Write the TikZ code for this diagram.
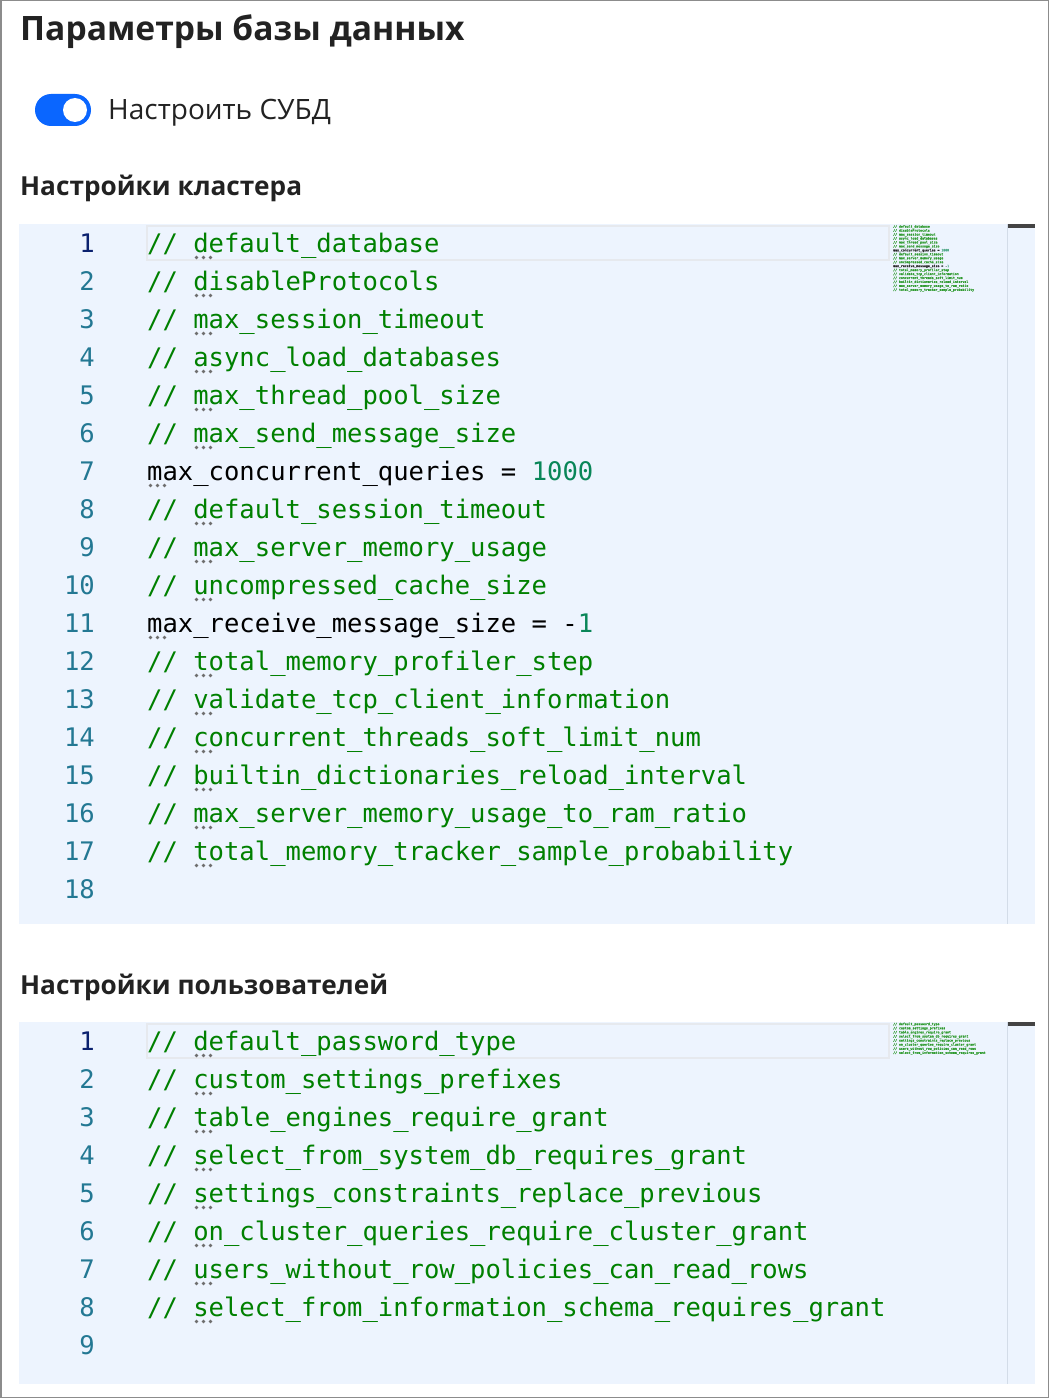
\documentclass[tikz,border=0pt]{standalone}
\usepackage{fontspec}
\newfontfamily\uifont{Open Sans}
\newfontfamily\codefont{DejaVu Sans Mono}
\newfontfamily\mmfont[FakeBold=3]{DejaVu Sans Mono}
\definecolor{edbg}{HTML}{EDF4FE}
\definecolor{cmt}{HTML}{008000}
\definecolor{numteal}{HTML}{098658}
\definecolor{lnteal}{HTML}{237893}
\definecolor{lnactive}{HTML}{0B216F}
\definecolor{hintgray}{HTML}{6E6E6E}
\definecolor{curline}{HTML}{E6E9EE}
\definecolor{toggleblue}{HTML}{0A66FF}
\definecolor{titlecol}{HTML}{222222}
\definecolor{framecol}{HTML}{8C8C8C}
\definecolor{sepcol}{HTML}{D3DCE8}
\definecolor{thumbcol}{HTML}{444444}
\definecolor{mmgreen}{HTML}{2E9A2E}
\newcommand\hintdots[2]{\foreach \k in {0,1,2}{\fill[hintgray] ({#1+3.5+7*\k},{#2}) circle (1.9);}}
\begin{document}
\begin{tikzpicture}[x=1pt,y=-1pt,
  code/.style={inner sep=0pt, anchor=base west, font=\codefont\fontsize{25.55}{30}\selectfont},
  lnum/.style={inner sep=0pt, anchor=base east, font=\codefont\fontsize{25.55}{30}\selectfont, text=lnteal},
  heading/.style={inner sep=0pt, anchor=base west, font=\uifont\bfseries\fontsize{26.2}{32}\selectfont, text=titlecol},
  minimap/.style={inner sep=0pt, anchor=north west, align=left, font=\mmfont\fontsize{3.2}{3.95}\selectfont, text=mmgreen},
  editor/.style={fill=edbg, draw=none},
  curbox/.style={draw=curline, line width=2.5pt},
]
\useasboundingbox (0,0) rectangle (1050,1399);
\fill[white] (0,0) rectangle (1050,1399);
\draw[framecol, line width=1.5pt] (0.75,0.75) rectangle (1048.5,1397.5);

% title
\node[inner sep=0pt, anchor=base west, font=\uifont\bfseries\fontsize{33.6}{40}\selectfont, text=titlecol] (title) at (20,41) {Параметры базы данных};

% toggle
\fill[toggleblue, rounded corners=16pt] (35,94) rectangle (91,126);
\fill[white] (75,110) circle (12);
\node[inner sep=0pt, anchor=base west, font=\uifont\fontsize{28}{32}\selectfont, text=titlecol] (toggle) at (108,120) {Настроить СУБД};

% section 1
\node[heading] (h1) at (20,196) {Настройки кластера};
\fill[edbg] (19,224) rectangle (1035,924);
\draw[sepcol, line width=1pt] (1007,224) -- (1007,924);
\fill[thumbcol] (1008,224) rectangle (1035,228);
\draw[curbox] (147,226) rectangle (889,260);

\foreach \i in {2,...,18}{
  \node[lnum] (ln\i) at (95,{252+38*(\i-1)}) {\i};
}
\node[lnum, text=lnactive] (ln1) at (95,252) {1};

\foreach \i/\t in {1/default\_database,2/disableProtocols,3/max\_session\_timeout,4/async\_load\_databases,5/max\_thread\_pool\_size,6/max\_send\_message\_size,8/default\_session\_timeout,9/max\_server\_memory\_usage,10/uncompressed\_cache\_size,12/total\_memory\_profiler\_step,13/validate\_tcp\_client\_information,14/concurrent\_threads\_soft\_limit\_num,15/builtin\_dictionaries\_reload\_interval,16/max\_server\_memory\_usage\_to\_ram\_ratio,17/total\_memory\_tracker\_sample\_probability}{
  \node[code, text=cmt] (a\i) at (147,{252+38*(\i-1)}) {// \t};
  \hintdots{193}{257.5+38*(\i-1)}
}
\node[code] (a7) at (147,480) {max\_concurrent\_queries = \textcolor{numteal}{1000}};
\hintdots{147}{485.5}
\node[code] (a11) at (147,632) {max\_receive\_message\_size = -\textcolor{numteal}{1}};
\hintdots{147}{637.5}

\node[minimap] (mm1) at (893,225) {%
// default\_database\\
// disableProtocols\\
// max\_session\_timeout\\
// async\_load\_databases\\
// max\_thread\_pool\_size\\
// max\_send\_message\_size\\
\textcolor{black!85}{max\_concurrent\_queries = }\textcolor{numteal!70}{1000}\\
// default\_session\_timeout\\
// max\_server\_memory\_usage\\
// uncompressed\_cache\_size\\
\textcolor{black!85}{max\_receive\_message\_size = -}\textcolor{numteal!70}{1}\\
// total\_memory\_profiler\_step\\
// validate\_tcp\_client\_information\\
// concurrent\_threads\_soft\_limit\_num\\
// builtin\_dictionaries\_reload\_interval\\
// max\_server\_memory\_usage\_to\_ram\_ratio\\
// total\_memory\_tracker\_sample\_probability};

% section 2
\node[heading] (h2) at (20,994) {Настройки пользователей};
\fill[edbg] (19,1022) rectangle (1035,1384);
\draw[sepcol, line width=1pt] (1007,1022) -- (1007,1384);
\fill[thumbcol] (1008,1022) rectangle (1035,1026);
\draw[curbox] (147,1024) rectangle (889,1058);

\foreach \i in {2,...,9}{
  \node[lnum] (lm\i) at (95,{1050+38*(\i-1)}) {\i};
}
\node[lnum, text=lnactive] (lm1) at (95,1050) {1};

\foreach \i/\t in {1/default\_password\_type,2/custom\_settings\_prefixes,3/table\_engines\_require\_grant,4/select\_from\_system\_db\_requires\_grant,5/settings\_constraints\_replace\_previous,6/on\_cluster\_queries\_require\_cluster\_grant,7/users\_without\_row\_policies\_can\_read\_rows,8/select\_from\_information\_schema\_requires\_grant}{
  \node[code, text=cmt] (b\i) at (147,{1050+38*(\i-1)}) {// \t};
  \hintdots{193}{1055.5+38*(\i-1)}
}

\node[minimap, font=\mmfont\fontsize{3.2}{4.1}\selectfont] (mm2) at (893,1022.5) {%
// default\_password\_type\\
// custom\_settings\_prefixes\\
// table\_engines\_require\_grant\\
// select\_from\_system\_db\_requires\_grant\\
// settings\_constraints\_replace\_previous\\
// on\_cluster\_queries\_require\_cluster\_grant\\
// users\_without\_row\_policies\_can\_read\_rows\\
// select\_from\_information\_schema\_requires\_grant};
\end{tikzpicture}
\end{document}
